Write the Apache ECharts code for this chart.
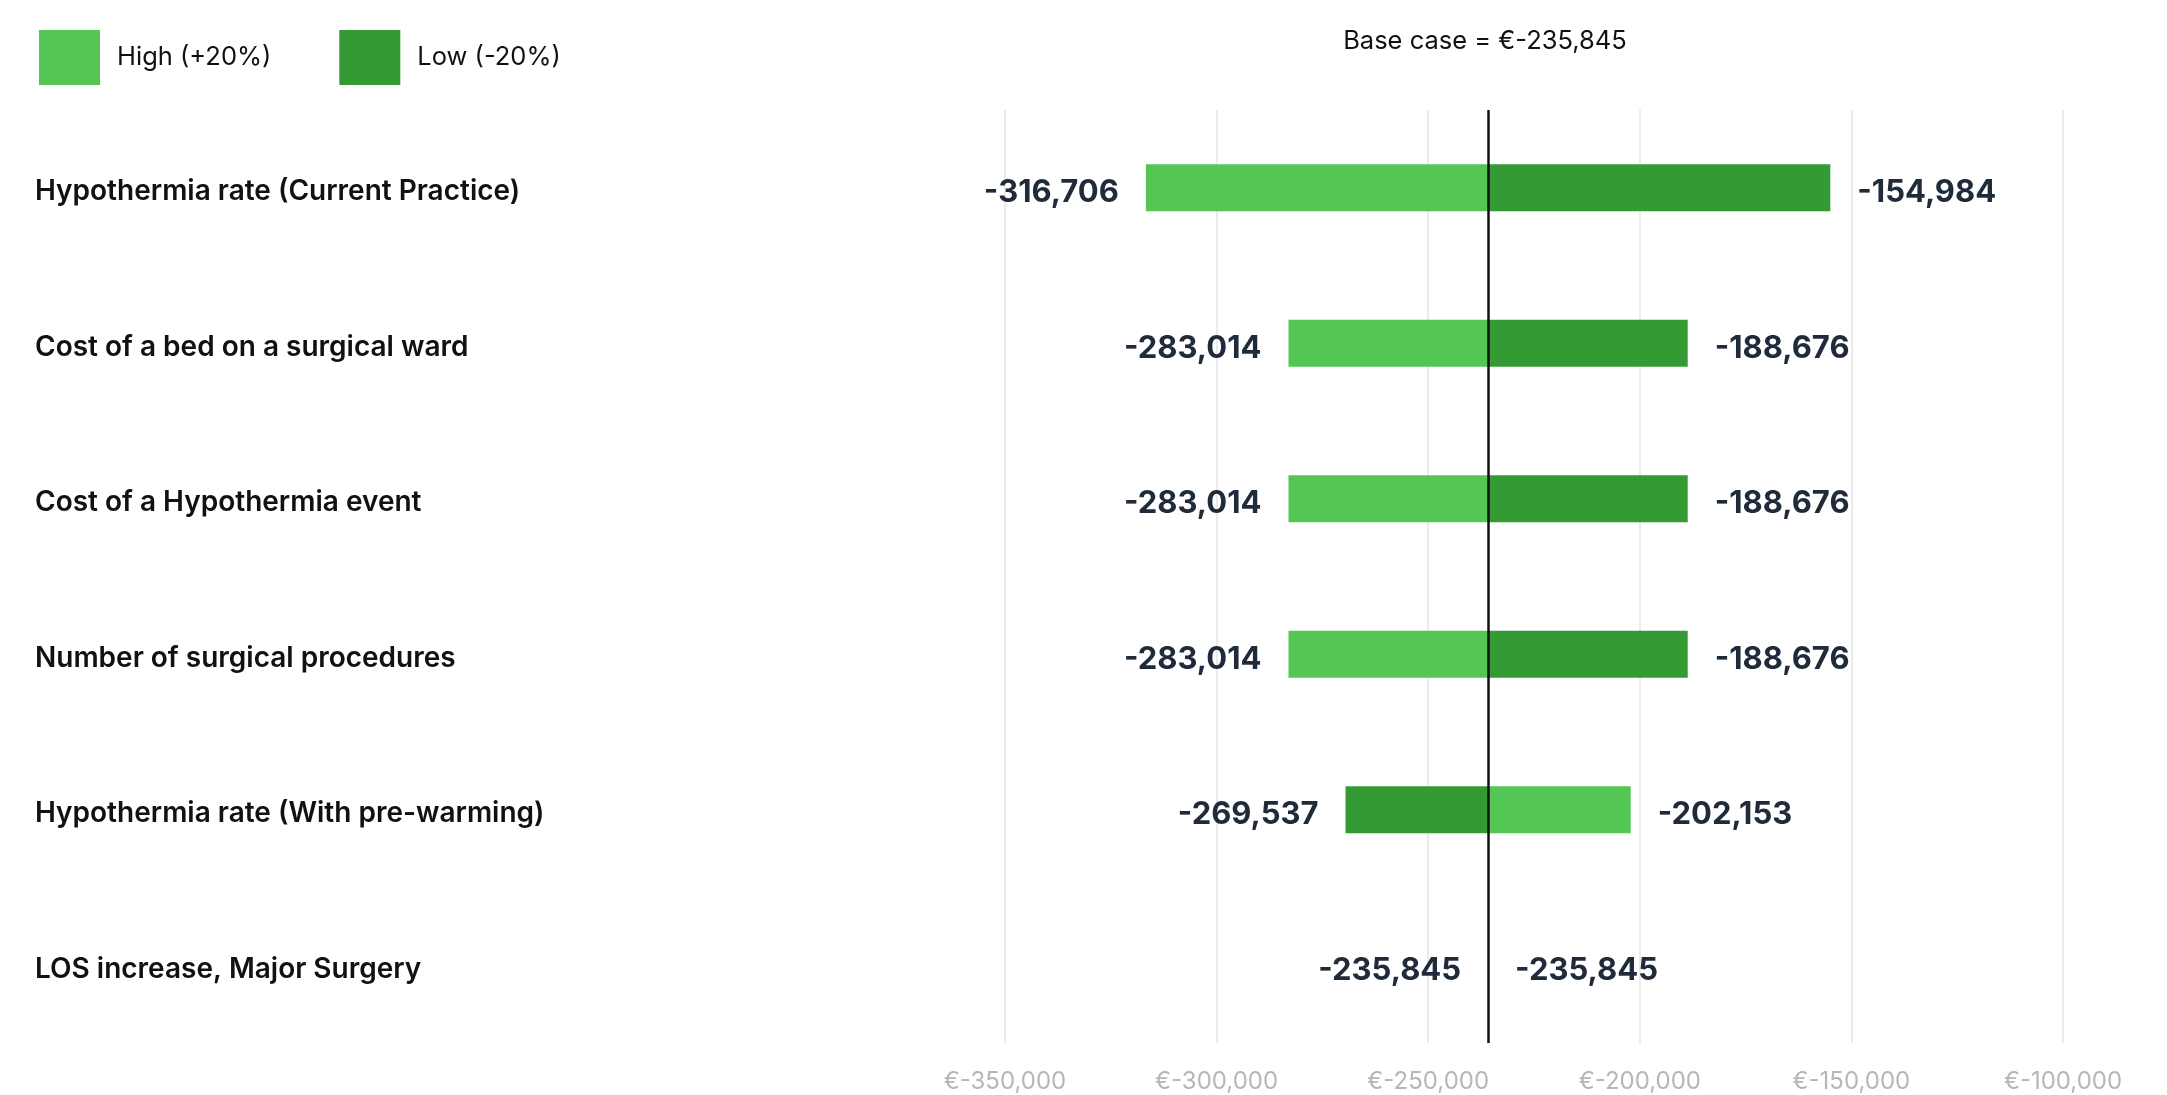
<!DOCTYPE html>
<html>
<head>
<meta charset="utf-8">
<title>Tornado chart</title>
<script src="https://cdn.jsdelivr.net/npm/echarts@6/dist/echarts.min.js"></script>
<style>
  html, body { margin: 0; padding: 0; background: #fff; }
  #chart { width: 2167px; height: 1095px; }
</style>
</head>
<body>
<div id="chart"></div>
<script>
// 参数名称（从上到下）
var categories = [
  'Hypothermia rate (Current Practice)',
  'Cost of a bed on a surgical ward',
  'Cost of a Hypothermia event',
  'Number of surgical procedures',
  'Hypothermia rate (With pre-warming)',
  'LOS increase, Major Surgery'
]
// +20% / -20% 的结果
var highValues = [-316706, -283014, -283014, -283014, -202153, -235845]
var lowValues = [-154984, -188676, -188676, -188676, -269537, -235845]
var baseCase = -235845
var seriesNames = ['High (+20%)', 'Low (-20%)']

var axisMin = -350000
var axisMax = -100000
var axisStep = 50000

function fmt (v) {
  return v.toLocaleString('en-US')
}

function toData (values) {
  return values.map(function (v, i) { return [i, v] })
}

// 从基准值画到数值的横条 + 数值标签
function renderBar (params, api) {
  var cat = api.value(0)
  var val = api.value(1)
  var start = api.coord([baseCase, cat])
  var end = api.coord([val, cat])
  var h = 47
  var onLeft = val < baseCase || (val === baseCase && params.seriesIndex === 0)
  return {
    type: 'group',
    children: [
      {
        type: 'rect',
        shape: {
          x: Math.min(start[0], end[0]),
          y: start[1] - h / 2,
          width: Math.abs(end[0] - start[0]),
          height: h
        },
        style: { fill: api.visual('color') }
      },
      {
        type: 'text',
        style: {
          text: fmt(val),
          x: onLeft ? end[0] - 27 : end[0] + 27,
          y: start[1] + 5,
          align: onLeft ? 'right' : 'left',
          verticalAlign: 'middle',
          fill: '#1f2b3a',
          font: 'bold 31px Inter'
        }
      }
    ]
  }
}

var chart = echarts.init(document.getElementById('chart'))
chart.setOption({
  animation: false,
  title: {
    text: 'Base case = €' + fmt(baseCase),
    left: 1480,
    top: 23,
    textAlign: 'center',
    textStyle: { fontFamily: 'Inter', fontSize: 25.5, fontWeight: 'normal', color: '#111' }
  },
  legend: {
    left: 39,
    top: 30,
    padding: 0,
    itemWidth: 61,
    itemHeight: 55,
    itemGap: 68,
    data: [
      { name: seriesNames[0], icon: 'rect' },
      { name: seriesNames[1], icon: 'rect' }
    ],
    textStyle: { fontFamily: 'Inter', fontSize: 25.5, color: '#111', padding: [0, 0, 0, 12] }
  },
  grid: { left: 1005, right: 104, top: 110, bottom: 52 },
  xAxis: {
    type: 'value',
    min: axisMin,
    max: axisMax,
    interval: axisStep,
    axisLine: { show: false },
    axisTick: { show: false },
    splitLine: { lineStyle: { color: '#ebebeb', width: 2 } },
    axisLabel: {
      margin: 27,
      fontFamily: 'Inter',
      fontSize: 24,
      color: '#b3b7bb',
      formatter: function (v) { return '€' + fmt(v) }
    }
  },
  yAxis: {
    type: 'category',
    data: categories,
    inverse: true,
    axisLine: { show: false },
    axisTick: { show: false },
    splitLine: { show: false },
    axisLabel: {
      align: 'left',
      verticalAlign: 'top',
      lineHeight: 8,
      margin: 970,
      fontFamily: 'Inter',
      fontSize: 28,
      fontWeight: 600,
      color: '#111'
    }
  },
  series: [
    {
      name: seriesNames[0],
      type: 'custom',
      itemStyle: { color: '#54c654' },
      encode: { x: 1, y: 0 },
      renderItem: renderBar,
      data: toData(highValues),
      z: 3
    },
    {
      name: seriesNames[1],
      type: 'custom',
      itemStyle: { color: '#349a34' },
      encode: { x: 1, y: 0 },
      renderItem: renderBar,
      data: toData(lowValues),
      z: 3,
      // 基准线
      markLine: {
        silent: true,
        symbol: ['none', 'none'],
        label: { show: false },
        lineStyle: { color: '#111', width: 2.5, type: 'solid' },
        data: [{ xAxis: baseCase }],
        z: 5
      }
    }
  ]
})
</script>
</body>
</html>
